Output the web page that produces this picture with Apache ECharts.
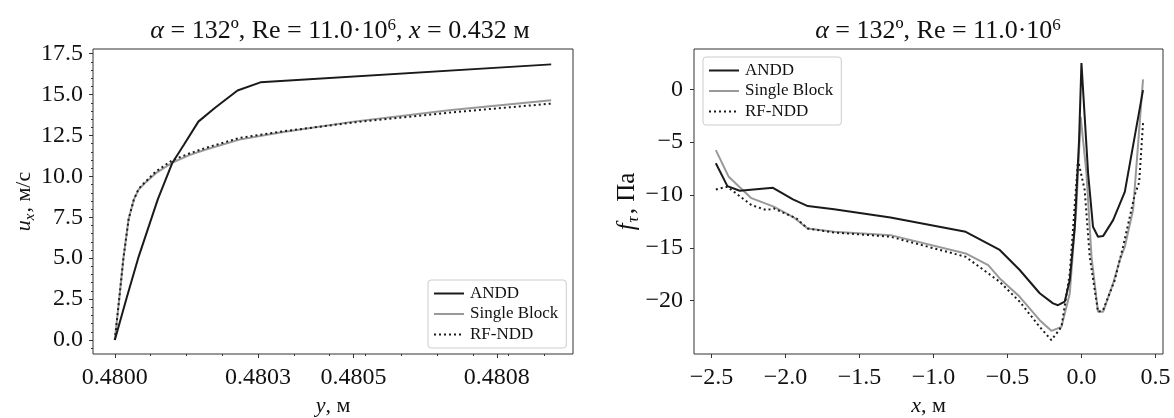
<!DOCTYPE html>
<html>
<head>
<meta charset="utf-8">
<script src="https://cdn.jsdelivr.net/npm/echarts@6/dist/echarts.min.js"></script>
<style>
html, body { margin: 0; padding: 0; background: #fff; }
#chart { width: 1174px; height: 418px; }
</style>
</head>
<body>
<div id="chart"></div>
<script>
// left panel: velocity profile u_x(y)
const leftAnddX = [0.48, 0.480025, 0.48005, 0.48009, 0.48012, 0.480145, 0.480175, 0.48021, 0.480257, 0.480305, 0.480914];
const leftAnddY = [0, 2.6, 5.1, 8.6, 10.8, 11.95, 13.35, 14.2, 15.25, 15.75, 16.85];
const leftSingleX = [0.48, 0.480009, 0.480018, 0.480029, 0.48004, 0.48005, 0.480065, 0.480086, 0.480121, 0.480156, 0.480191, 0.480261, 0.48035, 0.4805, 0.4807, 0.480914];
const leftSingleY = [0, 2.45, 5.0, 7.4, 8.6, 9.2, 9.65, 10.2, 10.85, 11.3, 11.65, 12.25, 12.7, 13.35, 14.05, 14.65];
const leftRfX = leftSingleX;
const leftRfY = [0, 2.45, 5.0, 7.4, 8.6, 9.25, 9.7, 10.3, 11.0, 11.4, 11.75, 12.35, 12.75, 13.3, 13.9, 14.45];

// right panel: friction f_tau(x)
const rightAnddX = [-2.47, -2.392, -2.309, -2.084, -1.949, -1.849, -1.671, -1.29, -0.782, -0.552, -0.417, -0.282, -0.192, -0.158, -0.113, -0.079, -0.045, -0.016, 0.0, 0.022, 0.045, 0.078, 0.112, 0.146, 0.214, 0.293, 0.416];
const rightAnddY = [-7.0, -9.16, -9.6, -9.32, -10.42, -11.05, -11.34, -12.12, -13.48, -15.2, -17.1, -19.3, -20.26, -20.43, -20.1, -18.06, -13.0, -4.8, 2.5, -2.6, -7.95, -13.0, -13.95, -13.89, -12.38, -9.7, -0.07];
const rightSingleX = [-2.47, -2.383, -2.23, -2.079, -1.95, -1.85, -1.671, -1.29, -0.782, -0.63, -0.552, -0.417, -0.282, -0.203, -0.135, -0.079, -0.034, -0.005, 0.034, 0.068, 0.112, 0.146, 0.214, 0.259, 0.293, 0.349, 0.416];
const rightSingleY = [-5.75, -8.28, -10.3, -11.1, -12.06, -13.17, -13.48, -13.8, -15.53, -16.64, -17.9, -19.64, -21.85, -22.86, -22.48, -19.32, -11.1, -2.6, -7.95, -15.85, -21.06, -21.06, -18.37, -16.16, -14.9, -11.4, 0.95];
const rightRfX = [-2.47, -2.392, -2.23, -2.128, -2.079, -1.925, -1.85, -1.671, -1.29, -0.782, -0.552, -0.417, -0.282, -0.203, -0.135, -0.079, -0.023, 0.022, 0.056, 0.112, 0.146, 0.225, 0.281, 0.36, 0.39, 0.416];
const rightRfY = [-9.47, -9.22, -10.95, -11.43, -11.27, -12.22, -13.17, -13.55, -13.95, -15.85, -18.22, -20.1, -22.48, -23.74, -22.48, -17.43, -6.7, -9.54, -15.85, -21.06, -20.9, -18.06, -14.9, -10.0, -8.8, -3.2];

// tick values
const leftXTicks = [0.48, 0.4803, 0.4805, 0.4808];
const leftXMinor = [0.480075, 0.48015, 0.480225, 0.480375, 0.48045, 0.480525, 0.4806, 0.480675, 0.48075, 0.480825, 0.4809];
const leftYTicks = [0, 2.5, 5, 7.5, 10, 12.5, 15, 17.5];
const leftYMinor = [-0.5, 0.5, 1, 1.5, 2, 3, 3.5, 4, 4.5, 5.5, 6, 6.5, 7, 8, 8.5, 9, 9.5, 10.5, 11, 11.5, 12, 13, 13.5, 14, 14.5, 15.5, 16, 16.5, 17];
const rightXTicks = [-2.5, -2.0, -1.5, -1.0, -0.5, 0.0, 0.5];
const rightYTicks = [-20, -15, -10, -5, 0];

const seriesNames = ['ANDD', 'Single Block', 'RF-NDD'];

const FONT = 'Liberation Serif';
const AXIS_COLOR = '#333';

const zip = (xs, ys) => xs.map((x, i) => [x, ys[i]]);
const minus = (s) => s.replace('-', '\u2212');

const myChart = echarts.init(document.getElementById('chart'));

const baseAxis = {
    type: 'value',
    splitLine: { show: false },
    axisLine: { show: false, onZero: false },
    axisLabel: { fontFamily: FONT, fontSize: 24, color: '#111' },
};

const minorAxis = (extra) => Object.assign({
    type: 'value',
    splitLine: { show: false },
    axisLine: { show: false, onZero: false },
    axisLabel: { show: false },
}, extra);

// rich styles for axis names
const nameRich = {
    i: { fontFamily: FONT, fontSize: 22, fontStyle: 'italic', fontWeight: 'normal', color: '#111', lineHeight: 24 },
    n: { fontFamily: FONT, fontSize: 22, fontWeight: 'normal', color: '#111', lineHeight: 24 },
    s: { fontFamily: FONT, fontSize: 15, fontStyle: 'italic', fontWeight: 'normal', color: '#111', lineHeight: 15, padding: [11, 1, 0, 0] },
};
const nameRichBig = {
    i: { fontFamily: FONT, fontSize: 25, fontStyle: 'italic', fontWeight: 'normal', color: '#111', lineHeight: 26 },
    n: { fontFamily: FONT, fontSize: 25, fontWeight: 'normal', color: '#111', lineHeight: 26 },
    s: { fontFamily: FONT, fontSize: 17, fontStyle: 'italic', fontWeight: 'normal', color: '#111', lineHeight: 17, padding: [12, 2, 0, 1] },
};
// rich styles for titles
const titleRich = {
    i: { fontFamily: FONT, fontSize: 26, fontStyle: 'italic', fontWeight: 'normal', color: '#111', lineHeight: 28 },
    n: { fontFamily: FONT, fontSize: 26, fontWeight: 'normal', color: '#111', lineHeight: 28 },
    sup: { fontFamily: FONT, fontSize: 17, fontWeight: 'normal', color: '#111', lineHeight: 17, padding: [0, 0, 11, 0] },
};

const lineSeries = (name, data, xi, yi) => {
    const styles = {
        'ANDD': { color: '#1a1a1a', width: 2, type: 'solid' },
        'Single Block': { color: '#999999', width: 2, type: 'solid' },
        'RF-NDD': { color: '#1a1a1a', width: 2, type: [2, 3] },
    };
    return {
        name: name,
        type: 'line',
        xAxisIndex: xi,
        yAxisIndex: yi,
        data: data,
        symbol: 'none',
        smooth: false,
        itemStyle: { color: styles[name].color },
        lineStyle: styles[name],
        z: name === 'RF-NDD' ? 4 : (name === 'ANDD' ? 3 : 2),
        animation: false,
    };
};

const legendBase = {
    data: seriesNames,
    orient: 'vertical',
    itemWidth: 30,
    itemHeight: 12,
    itemGap: 3.5,
    padding: [5, 8, 5, 5],
    borderColor: '#cccccc',
    borderWidth: 1,
    borderRadius: 3,
    backgroundColor: 'rgba(255,255,255,0.8)',
    itemStyle: { opacity: 0 },
    textStyle: { fontFamily: FONT, fontSize: 17, lineHeight: 17, color: '#111', padding: [0, 0, 0, 1] },
    selectedMode: false,
};

const majorTick = (vals) => ({ show: true, inside: false, length: 4, lineStyle: { color: AXIS_COLOR, width: 1 }, customValues: vals });
const minorTickOf = (vals) => ({ show: true, inside: false, length: 2, lineStyle: { color: AXIS_COLOR, width: 1 }, customValues: vals });

let option = {
    backgroundColor: '#fff',
    animation: false,
    title: [
        {
            text: '{i|\u03b1}{n| = 132\u00ba, Re = 11.0\u00b710}{sup|6}{n|, }{i|x}{n| = 0.432 м}',
            left: 335, top: 12, textAlign: 'center',
            textStyle: { fontWeight: 'normal', rich: titleRich },
        },
        {
            text: '{i|\u03b1}{n| = 132\u00ba, Re = 11.0\u00b710}{sup|6}',
            left: 933, top: 12, textAlign: 'center',
            textStyle: { fontWeight: 'normal', rich: titleRich },
        },
    ],
    grid: [
        { left: 93, top: 49, width: 480, height: 305, outerBoundsMode: 'none', show: true, borderColor: AXIS_COLOR, borderWidth: 1, containLabel: false },
        { left: 694, top: 49, width: 469, height: 305, outerBoundsMode: 'none', show: true, borderColor: AXIS_COLOR, borderWidth: 1, containLabel: false },
    ],
    legend: [
        Object.assign({}, legendBase, { left: 428, top: 280 }),
        Object.assign({}, legendBase, { left: 703, top: 57 }),
    ],
    xAxis: [
        Object.assign({}, baseAxis, {
            gridIndex: 0, position: 'bottom',
            min: 0.4799543, max: 0.4809597,
            name: '{i|y}{n|, м}', nameLocation: 'middle', nameGap: 39,
            nameTextStyle: { rich: nameRich },
            axisTick: majorTick(leftXTicks),
            axisLabel: Object.assign({}, baseAxis.axisLabel, { margin: 12, customValues: leftXTicks, formatter: (v) => v.toFixed(4) }),
        }),
        minorAxis({
            gridIndex: 0, position: 'bottom',
            min: 0.4799543, max: 0.4809597,
            axisTick: minorTickOf(leftXMinor),
        }),
        Object.assign({}, baseAxis, {
            gridIndex: 1, position: 'bottom',
            min: -2.6176, max: 0.551,
            name: '{i|x}{n|, м}', nameLocation: 'middle', nameGap: 39,
            nameTextStyle: { rich: nameRich },
            axisTick: majorTick(rightXTicks),
            axisLabel: Object.assign({}, baseAxis.axisLabel, { margin: 12, customValues: rightXTicks, formatter: (v) => minus(v.toFixed(1)) }),
        }),
    ],
    yAxis: [
        Object.assign({}, baseAxis, {
            gridIndex: 0, position: 'left',
            min: -0.857, max: 17.79,
            name: '{i|u}{s|x}{n|, м/с}', nameLocation: 'middle', nameGap: 56, nameRotate: 90,
            nameTextStyle: { rich: nameRich },
            axisTick: majorTick(leftYTicks),
            axisLabel: Object.assign({}, baseAxis.axisLabel, { margin: 10, customValues: leftYTicks, formatter: (v) => v.toFixed(1) }),
        }),
        minorAxis({
            gridIndex: 0, position: 'left',
            min: -0.857, max: 17.79,
            axisTick: minorTickOf(leftYMinor),
        }),
        Object.assign({}, baseAxis, {
            gridIndex: 1, position: 'left',
            min: -25.05, max: 3.82,
            name: '{i|f}{s|\u03c4}{n|, Па}', nameLocation: 'middle', nameGap: 40, nameRotate: 90,
            nameTextStyle: { rich: nameRichBig },
            axisTick: majorTick(rightYTicks),
            axisLabel: Object.assign({}, baseAxis.axisLabel, { margin: 11, customValues: rightYTicks, formatter: (v) => minus(String(v)) }),
        }),
    ],
    series: [
        lineSeries('ANDD', zip(leftAnddX, leftAnddY), 0, 0),
        lineSeries('Single Block', zip(leftSingleX, leftSingleY), 0, 0),
        lineSeries('RF-NDD', zip(leftRfX, leftRfY), 0, 0),
        lineSeries('ANDD', zip(rightAnddX, rightAnddY), 2, 2),
        lineSeries('Single Block', zip(rightSingleX, rightSingleY), 2, 2),
        lineSeries('RF-NDD', zip(rightRfX, rightRfY), 2, 2),
    ],
};

myChart.setOption(option);
</script>
</body>
</html>
